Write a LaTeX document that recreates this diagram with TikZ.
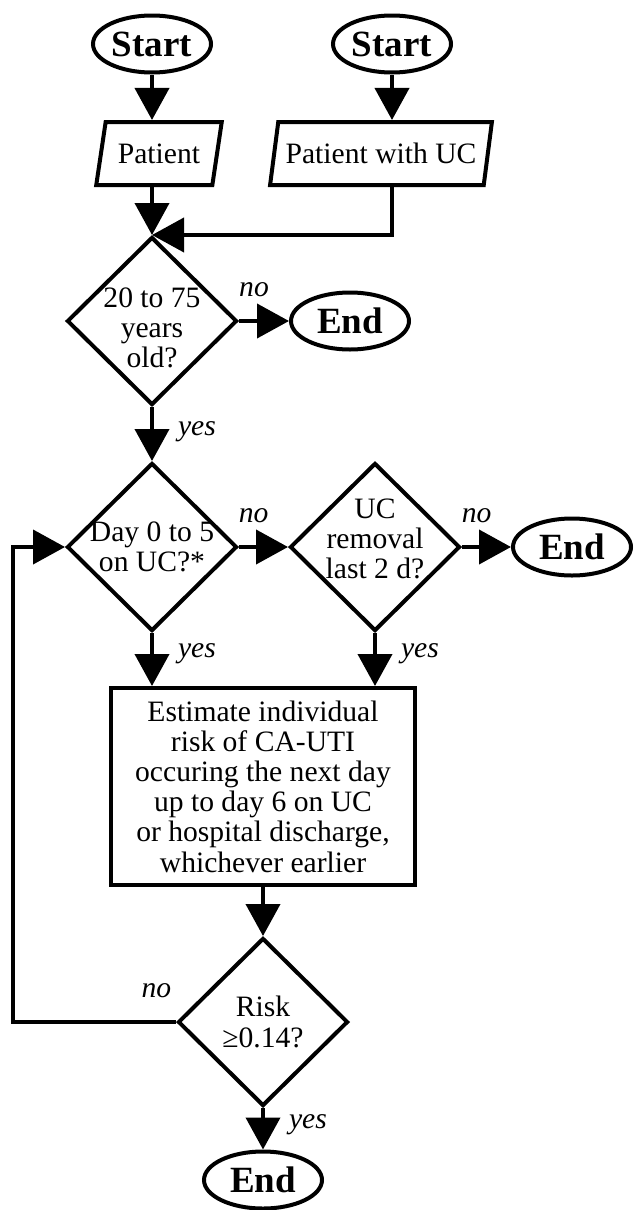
\documentclass[tikz,border=0pt]{standalone}
\usepackage{fontspec}
\setmainfont{Liberation Serif}
\usetikzlibrary{shapes.geometric}
\usetikzlibrary{arrows.meta}
\newcommand{\chartsize}{\fontsize{14.8}{15.1}\selectfont}
\tikzset{
  terminal/.style={ellipse, draw, line width=2pt, minimum width=59pt,
    minimum height=28.5pt, inner sep=0pt, font=\fontsize{18.5}{19}\selectfont\bfseries},
  io/.style={trapezium, trapezium left angle=70, trapezium right angle=110,
    trapezium stretches=true, draw, line width=2pt, minimum height=31.5pt, inner sep=0pt},
  decision/.style={diamond, draw, line width=2pt, minimum width=85pt,
    minimum height=84pt, inner sep=0pt},
  dtext/.style={align=center},
  process/.style={rectangle, draw, line width=2pt, minimum width=152pt,
    minimum height=98.5pt, align=center},
  arr/.style={line width=2pt, -{Triangle[width=17pt,length=16pt]}},
  answer/.style={font=\chartsize\itshape, inner sep=1pt}
}

\begin{document}
\begin{tikzpicture}[x=0.5pt, y=-0.5pt, font=\chartsize]
    \useasboundingbox (0,0) rectangle (634,1210);

    \node[terminal] (start1) at (152,44) {Start};
    \node[terminal] (start2) at (392,44) {Start};
    \node[io, minimum width=63pt] (pat1) at (159,153.5) {Patient};
    \node[io, minimum width=111pt] (pat2) at (381,153.5) {Patient with UC};
    \node[decision, label={[dtext, yshift=-3.5pt]center:{20 to 75\\years\\old?}}] (age) at (152,321) {};
    \node[terminal] (end1) at (350,321) {End};
    \node[decision, label={[dtext]center:{Day 0 to 5\\on UC?*}}] (day) at (152,547) {};
    \node[decision, label={[dtext, yshift=4pt]center:{UC\\removal\\last 2 d?}}] (removal) at (375,547) {};
    \node[terminal] (end2) at (572,547) {End};
    \node[process] (risk) at (263,786.5) {Estimate individual\\risk of CA-UTI\\occuring the next day\\up to day 6 on UC\\or hospital discharge,\\whichever earlier};
    \node[decision, label={[dtext]center:{Risk\\≥0.14?}}] (cut) at (263,1022) {};
    \node[terminal] (end3) at (263,1180) {End};
    \coordinate (loop) at (13,1022);

    \draw[arr] (start1) -- (start1 |- pat1.north);
    \draw[arr] (start2) -- (start2 |- pat2.north);
    \draw[arr] (start1 |- pat1.south) -- (age.north);
    \draw[arr] (start2 |- pat2.south) |- (age.north);

    \draw[arr] (age.east) -- node[answer, above=10pt, pos=0.3] {no} (end1);
    \draw[arr] (age.south) -- node[answer, right=11pt, pos=0.45] {yes} (day.north);
    \draw[arr] (day.east) -- node[answer, above=10pt, pos=0.3] {no} (removal.west);
    \draw[arr] (removal.east) -- node[answer, above=10pt, pos=0.3] {no} (end2);
    \draw[arr] (day.south) -- node[answer, right=11pt, pos=0.4] {yes} (day.south |- risk.north);
    \draw[arr] (removal.south) -- node[answer, right=11pt, pos=0.4] {yes} (removal.south |- risk.north);
    \draw[arr] (risk) -- (cut);
    \draw[arr] (cut.south) -- node[answer, right=11pt, pos=0.4] {yes} (end3);
    \draw[arr] (cut.west) -- node[answer, above=10pt, pos=0.12] {no} (loop) |- (day.west);
  \end{tikzpicture}
\end{document}
